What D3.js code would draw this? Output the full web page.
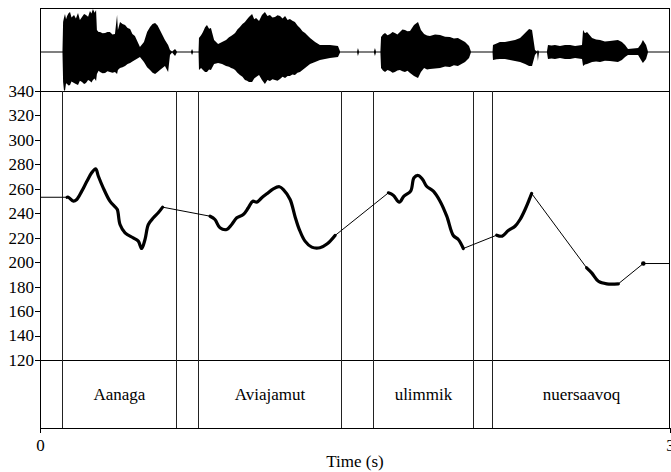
<!DOCTYPE html>
<html>
<head>
<meta charset="utf-8">
<script src="https://cdn.jsdelivr.net/npm/d3@7"></script>
<style>
  body { margin: 0; background: #fff; }
  svg text { font-family: "Liberation Serif", Tinos, "Times New Roman", Times, "Nimbus Roman", "DejaVu Serif", serif; }
</style>
</head>
<body>
<div id="chart"></div>
<script>
// waveform envelope (time in s, amplitude upper / lower, normalised)
const wavTime = [0, .107, .110, .114, .119, .124, .129, .136, .143, .150, .162, .171, .181, .190, .200, .210, .219, .229, .238, .245, .252, .260, .267, .271, .279, .286, .298, .310, .321, .333, .345, .357, .367, .371, .381, .393, .405, .417, .429, .440, .452, .476, .495, .510, .524, .536, .548, .560, .571, .595, .610, .619, .629, .643, .652, .719, .724, .729, .755, .757, .767, .776, .786, .795, .805, .814, .829, .848, .867, .886, .900, .910, .920, .929, .940, .952, .964, .976, .986, .995, 1.010, 1.020, 1.029, 1.043, 1.057, 1.071, 1.083, 1.095, 1.107, 1.119, 1.131, 1.143, 1.155, 1.167, 1.179, 1.190, 1.202, 1.214, 1.226, 1.238, 1.250, 1.262, 1.286, 1.310, 1.333, 1.381, 1.419, 1.429, 1.510, 1.514, 1.519, 1.590, 1.595, 1.600, 1.621, 1.624, 1.633, 1.643, 1.655, 1.667, 1.679, 1.690, 1.702, 1.714, 1.726, 1.738, 1.750, 1.762, 1.781, 1.800, 1.814, 1.829, 1.843, 1.857, 1.881, 1.905, 1.929, 1.952, 1.971, 1.990, 2.024, 2.043, 2.052, 2.155, 2.157, 2.174, 2.190, 2.214, 2.238, 2.262, 2.286, 2.310, 2.329, 2.343, 2.357, 2.367, 2.371, 2.376, 2.414, 2.419, 2.436, 2.452, 2.476, 2.500, 2.524, 2.548, 2.581, 2.586, 2.595, 2.605, 2.629, 2.648, 2.667, 2.690, 2.714, 2.752, 2.771, 2.786, 2.800, 2.848, 2.862, 2.871, 2.886, 2.895, 3.0];
const wavUpper = [.012, .012, .75, .85, .95, .82, .9, .97, 1.0, .86, .925, .84, .975, .8, .875, .95, .925, .88, 1.025, .96, 1.075, .98, 1.05, .55, .5, .5, .47, .475, .5, .5, .44, .45, .925, .55, .75, .7, .675, .6, .575, .45, .4, .125, .25, .5, .625, .7, .725, .66, .55, .3, .175, .05, .012, .075, .012, .012, .075, .012, .012, .35, .42, .5, .62, .675, .58, .6, .3, .2, .25, .3, .37, .4, .44, .475, .56, .625, .7, .75, .82, .875, .95, .82, .85, .775, .925, 1.0, .9, .925, .86, .875, .92, .9, .84, .9, .8, .825, .78, .75, .66, .6, .52, .475, .35, .25, .175, .175, .15, .012, .012, .1, .012, .012, .1, .012, .012, .375, .44, .475, .42, .45, .5, .475, .44, .5, .56, .55, .52, .525, .675, .75, .55, .45, .41, .4, .44, .425, .38, .375, .34, .35, .25, .15, .012, .012, .175, .21, .25, .25, .275, .3, .35, .475, .575, .55, .05, .012, .05, .012, .012, .175, .16, .175, .15, .175, .175, .15, .175, .55, .47, .5, .35, .31, .3, .26, .275, .3, .25, .175, .075, .1, .2, .3, .175, .012, .012];
const wavLower = [-.012, -.012, -.75, -.95, -.975, -.78, -.8, -.84, -.825, -.74, -.775, -.8, -.825, -.72, -.75, -.8, -.775, -.7, -.725, -.76, -.7, -.66, -.725, -.55, -.47, -.5, -.53, -.525, -.48, -.5, -.52, -.5, -.55, -.45, -.4, -.38, -.35, -.3, -.275, -.24, -.2, -.125, -.25, -.38, -.45, -.52, -.55, -.5, -.45, -.35, -.5, -.075, -.012, -.1, -.012, -.012, -.075, -.012, -.012, -.45, -.4, -.45, -.5, -.5, -.44, -.45, -.3, -.275, -.3, -.35, -.37, -.4, -.42, -.45, -.52, -.575, -.62, -.7, -.72, -.75, -.75, -.66, -.625, -.575, -.7, -.8, -.7, -.725, -.68, -.7, -.72, -.675, -.62, -.65, -.6, -.6, -.56, -.575, -.52, -.5, -.45, -.4, -.3, -.25, -.2, -.15, -.125, -.012, -.012, -.1, -.012, -.012, -.1, -.012, -.012, -.4, -.46, -.5, -.45, -.475, -.52, -.5, -.46, -.45, -.48, -.5, -.47, -.525, -.6, -.65, -.5, -.4, -.44, -.425, -.41, -.4, -.36, -.375, -.33, -.35, -.25, -.15, -.012, -.012, -.2, -.18, -.175, -.175, -.2, -.225, -.25, -.3, -.35, -.35, -.075, -.012, -.225, -.012, -.012, -.175, -.16, -.175, -.15, -.175, -.175, -.15, -.175, -.35, -.31, -.3, -.25, -.24, -.25, -.22, -.225, -.25, -.2, -.125, -.075, -.075, -.2, -.275, -.175, -.012, -.012];

// pitch track (s, Hz)
const pitchTime = [0.129, 0.135, 0.159, 0.175, 0.199, 0.222, 0.246, 0.265, 0.278, 0.301, 0.333, 0.357, 0.368, 0.381, 0.405, 0.444, 0.468, 0.484, 0.500, 0.516, 0.540, 0.563, 0.584,
  0.810, 0.833, 0.857, 0.889, 0.913, 0.937, 0.968, 0.992, 1.013, 1.032, 1.056, 1.080, 1.111, 1.140, 1.159, 1.191, 1.214, 1.235, 1.262, 1.294, 1.333, 1.368, 1.405,
  1.659, 1.682, 1.711, 1.733, 1.765, 1.781, 1.801, 1.822, 1.841, 1.873, 1.905, 1.937, 1.968, 1.992, 2.016,
  2.175, 2.201, 2.230, 2.262, 2.286, 2.310, 2.330, 2.341,
  2.603, 2.627, 2.659, 2.699, 2.754,
  2.873];
const pitchHz = [253.1, 253.1, 249.9, 251.3, 258.1, 265.7, 273.1, 276.4, 270.3, 260.8, 249.9, 245.3, 243.1, 230.8, 224.0, 219.9, 217.2, 211.2, 218.6, 230.8, 236.3, 240.4, 245.0,
  237.6, 234.9, 228.1, 226.7, 230.8, 236.3, 239.0, 244.5, 249.9, 249.1, 252.7, 255.9, 260.0, 261.7, 259.4, 251.3, 237.6, 226.7, 217.2, 212.3, 211.8, 215.0, 221.8,
  256.7, 254.8, 249.1, 254.0, 258.1, 269.0, 270.9, 267.6, 262.1, 258.1, 249.9, 237.6, 221.8, 218.6, 211.2,
  222.1, 221.3, 225.9, 229.4, 234.9, 243.1, 251.3, 256.2,
  195.4, 191.3, 184.4, 182.3, 182.3,
  198.9];
// index where each voiced stretch starts
const voicedStarts = [0, 23, 46, 61, 69, 74];

// text tier
const tierBounds = [0.108, 0.648, 0.754, 1.436, 1.590, 2.062, 2.157];
const words = ["Aanaga", "Aviajamut", "ulimmik", "nuersaavoq"];
const wordStart = [0.108, 0.754, 1.590, 2.157];
const wordEnd = [0.648, 1.436, 2.062, 3.0];

const hzTicks = [120, 140, 160, 180, 200, 220, 240, 260, 280, 300, 320, 340];
const timeTicks = [0, 3];

const width = 671, height = 472;
const box = {left: 40, right: 670, top: 8, pitch: 91, tier: 360, bottom: 427.5};
const serif = '"Liberation Serif", Tinos, "Times New Roman", Times, "Nimbus Roman", "DejaVu Serif", serif';

const svg = d3.select("#chart").append("svg")
  .attr("width", width)
  .attr("height", height)
  .attr("font-family", serif);

const xScale = d3.scaleLinear().domain([0, 3]).range([box.left, box.right]);
const yScale = d3.scaleLinear().domain([120, 340]).range([box.tier, box.pitch]);
const wScale = d3.scaleLinear().domain([-1, 1]).range([92, 12]);

// waveform
const wav = wavTime.map((t, i) => ({t: t, hi: wavUpper[i], lo: wavLower[i]}));
svg.append("path")
  .datum(wav)
  .attr("d", d3.area()
    .x(d => xScale(d.t))
    .y0(d => Math.min(wScale(d.lo), box.pitch))
    .y1(d => Math.max(wScale(d.hi), box.top + 1)))
  .attr("fill", "#000");

// frame lines
const frame = svg.append("g")
  .attr("stroke", "#000")
  .attr("shape-rendering", "crispEdges");
[box.top, box.pitch, box.tier].forEach(y =>
  frame.append("line").attr("x1", box.left).attr("x2", box.right).attr("y1", y).attr("y2", y));
frame.append("line").attr("x1", box.left).attr("x2", box.left).attr("y1", box.top).attr("y2", box.bottom);
frame.append("line").attr("x1", box.right - 0.5).attr("x2", box.right - 0.5).attr("y1", box.top).attr("y2", box.bottom);

// boundaries
svg.append("g")
  .attr("stroke", "#222")
  .attr("shape-rendering", "crispEdges")
  .selectAll("line")
  .data(tierBounds)
  .join("line")
  .attr("x1", d => xScale(d)).attr("x2", d => xScale(d))
  .attr("y1", box.pitch).attr("y2", box.bottom);

// y axis (Hz)
const yAxis = svg.append("g")
  .attr("transform", `translate(${box.left},0)`)
  .call(d3.axisLeft(yScale).tickValues(hzTicks).tickSize(5).tickSizeOuter(0).tickPadding(1))
  .attr("font-family", serif)
  .attr("font-size", 17);
yAxis.selectAll(".domain, .tick line").attr("shape-rendering", "crispEdges");
yAxis.selectAll("text").attr("fill", "#000");

// x axis
const xAxis = svg.append("g")
  .attr("transform", `translate(0,${box.bottom})`)
  .call(d3.axisBottom(xScale).tickValues(timeTicks).tickFormat(d3.format("d")).tickSize(5).tickSizeOuter(0).tickPadding(6))
  .attr("font-family", serif)
  .attr("font-size", 17);
xAxis.selectAll("line, .domain").attr("shape-rendering", "crispEdges");
xAxis.selectAll("text").attr("fill", "#000");

svg.append("text")
  .attr("x", (box.left + box.right) / 2)
  .attr("y", 467)
  .attr("text-anchor", "middle")
  .attr("font-size", 17)
  .text("Time (s)");

// word labels
svg.append("g")
  .selectAll("text")
  .data(words)
  .join("text")
  .attr("x", (d, i) => xScale((wordStart[i] + wordEnd[i]) / 2))
  .attr("y", 400)
  .attr("text-anchor", "middle")
  .attr("font-size", 17)
  .text(d => d);

// pitch: thin connecting line first, thick voiced stretches on top
const pts = pitchTime.map((t, i) => ({t: t, f: pitchHz[i]}));
const thin = [{t: 0, f: pts[0].f}, ...pts, {t: 3, f: pts[pts.length - 1].f}];
svg.append("path")
  .datum(thin)
  .attr("d", d3.line().x(d => xScale(d.t)).y(d => yScale(d.f)))
  .attr("fill", "none")
  .attr("stroke", "#000")
  .attr("stroke-width", 1);

const runs = voicedStarts.map((s, i) => pts.slice(s, voicedStarts[i + 1] || pts.length));
svg.append("g")
  .selectAll("path")
  .data(runs)
  .join("path")
  .attr("d", d3.line().x(d => xScale(d.t)).y(d => yScale(d.f)).curve(d3.curveCatmullRom))
  .attr("fill", "none")
  .attr("stroke", "#000")
  .attr("stroke-width", 3.2)
  .attr("stroke-linecap", "round")
  .attr("stroke-linejoin", "round");

svg.append("g")
  .selectAll("circle")
  .data(runs.filter(r => r.length == 1).map(r => r[0]))
  .join("circle")
  .attr("cx", d => xScale(d.t))
  .attr("cy", d => yScale(d.f))
  .attr("r", 2.3)
  .attr("fill", "#000");
</script>
</body>
</html>
